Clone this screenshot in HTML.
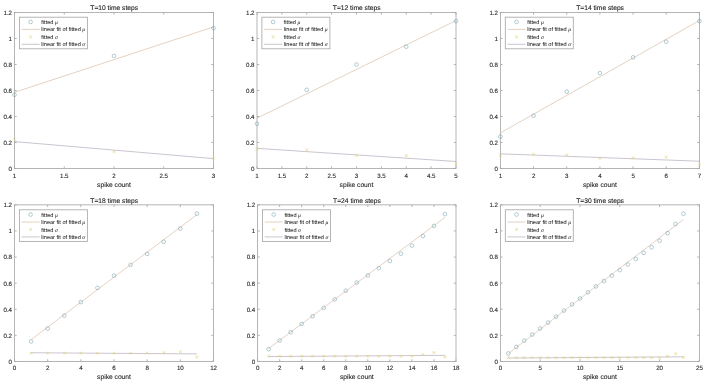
<!DOCTYPE html>
<html><head><meta charset="utf-8"><style>
html,body{margin:0;padding:0;background:#fff;width:708px;height:386px;overflow:hidden}
svg{display:block}
text{text-rendering:geometricPrecision;font-family:"Liberation Sans",sans-serif;font-size:6.2px;fill:#262626;stroke:#262626;stroke-width:0.1px}
text.k{letter-spacing:-0.1px}
text.t{font-size:6.7px;fill:#181818;stroke:#181818;stroke-width:0.1px}
text.l{font-size:5.6px;fill:#2a2a2a;stroke:#2a2a2a;stroke-width:0.05px}
text.x{font-size:6.7px}
tspan.g{font-family:"Liberation Serif",serif;font-style:italic}
</style></head><body>
<svg width="708" height="386" viewBox="0 0 708 386">
<defs><filter id="b" filterUnits="userSpaceOnUse" x="0" y="0" width="708" height="386"><feGaussianBlur stdDeviation="0.32"/></filter></defs>
<rect width="708" height="386" fill="#ffffff"/>
<g filter="url(#b)">
<g><rect x="14.50" y="12.50" width="199.00" height="156.00" fill="none" stroke="#a8a8a8" stroke-width="0.85"/><path d="M14.50 168.50v-2.2M14.50 12.50v2.2" stroke="#a8a8a8" stroke-width="0.85"/><text x="14.50" y="177.80" text-anchor="middle" class="k">1</text><path d="M64.25 168.50v-2.2M64.25 12.50v2.2" stroke="#a8a8a8" stroke-width="0.85"/><text x="64.25" y="177.80" text-anchor="middle" class="k">1.5</text><path d="M114.00 168.50v-2.2M114.00 12.50v2.2" stroke="#a8a8a8" stroke-width="0.85"/><text x="114.00" y="177.80" text-anchor="middle" class="k">2</text><path d="M163.75 168.50v-2.2M163.75 12.50v2.2" stroke="#a8a8a8" stroke-width="0.85"/><text x="163.75" y="177.80" text-anchor="middle" class="k">2.5</text><path d="M213.50 168.50v-2.2M213.50 12.50v2.2" stroke="#a8a8a8" stroke-width="0.85"/><text x="213.50" y="177.80" text-anchor="middle" class="k">3</text><path d="M14.50 168.50h2.2M213.50 168.50h-2.2" stroke="#a8a8a8" stroke-width="0.85"/><text x="11.90" y="170.60" text-anchor="end" class="k">0</text><path d="M14.50 142.50h2.2M213.50 142.50h-2.2" stroke="#a8a8a8" stroke-width="0.85"/><text x="11.90" y="144.60" text-anchor="end" class="k">0.2</text><path d="M14.50 116.50h2.2M213.50 116.50h-2.2" stroke="#a8a8a8" stroke-width="0.85"/><text x="11.90" y="118.60" text-anchor="end" class="k">0.4</text><path d="M14.50 90.50h2.2M213.50 90.50h-2.2" stroke="#a8a8a8" stroke-width="0.85"/><text x="11.90" y="92.60" text-anchor="end" class="k">0.6</text><path d="M14.50 64.50h2.2M213.50 64.50h-2.2" stroke="#a8a8a8" stroke-width="0.85"/><text x="11.90" y="66.60" text-anchor="end" class="k">0.8</text><path d="M14.50 38.50h2.2M213.50 38.50h-2.2" stroke="#a8a8a8" stroke-width="0.85"/><text x="11.90" y="40.60" text-anchor="end" class="k">1</text><path d="M14.50 12.50h2.2M213.50 12.50h-2.2" stroke="#a8a8a8" stroke-width="0.85"/><text x="11.90" y="14.60" text-anchor="end" class="k">1.2</text><text x="114.00" y="186.60" text-anchor="middle" class="x">spike count</text><text x="114.20" y="9.90" text-anchor="middle" class="t">T=10 time steps</text><line x1="14.50" y1="92.32" x2="213.50" y2="26.93" stroke="#d0ac90" stroke-width="0.55"/><line x1="14.50" y1="141.59" x2="213.50" y2="158.62" stroke="#9d95a8" stroke-width="0.55"/><circle cx="14.50" cy="94.79" r="1.85" fill="none" stroke="#6e9eae" stroke-width="0.52"/><circle cx="114.00" cy="55.92" r="1.85" fill="none" stroke="#6e9eae" stroke-width="0.52"/><circle cx="213.50" cy="28.23" r="1.85" fill="none" stroke="#6e9eae" stroke-width="0.52"/><path d="M12.93 139.38h3.15M14.50 137.81v3.15" stroke="#e2d47a" stroke-width="0.34" opacity="0.8"/><path d="M13.02 137.90l2.97 2.97M13.02 140.86l2.97 -2.97" stroke="#e2d47a" stroke-width="0.42"/><path d="M112.42 151.73h3.15M114.00 150.16v3.15" stroke="#e2d47a" stroke-width="0.34" opacity="0.8"/><path d="M112.52 150.25l2.97 2.97M112.52 153.21l2.97 -2.97" stroke="#e2d47a" stroke-width="0.42"/><path d="M211.93 158.10h3.15M213.50 156.53v3.15" stroke="#e2d47a" stroke-width="0.34" opacity="0.8"/><path d="M212.02 156.62l2.97 2.97M212.02 159.58l2.97 -2.97" stroke="#e2d47a" stroke-width="0.42"/><rect x="19.40" y="17.20" width="68.0" height="31.6" fill="#ffffff" stroke="#a8a8a8" stroke-width="0.85"/><circle cx="30.60" cy="21.95" r="1.85" fill="none" stroke="#6e9eae" stroke-width="0.52"/><line x1="21.60" y1="29.40" x2="39.70" y2="29.40" stroke="#d0ac90" stroke-width="0.55"/><path d="M29.02 36.85h3.15M30.60 35.27v3.15" stroke="#e2d47a" stroke-width="0.34" opacity="0.8"/><path d="M29.12 35.37l2.97 2.97M29.12 38.33l2.97 -2.97" stroke="#e2d47a" stroke-width="0.42"/><line x1="21.60" y1="44.30" x2="39.70" y2="44.30" stroke="#9d95a8" stroke-width="0.55"/><text x="41.30" y="23.95" class="l">fitted <tspan class="g">&#956;</tspan></text><text x="41.30" y="31.40" class="l">linear fit of fitted <tspan class="g">&#956;</tspan></text><text x="41.30" y="38.85" class="l">fitted <tspan class="g">&#963;</tspan></text><text x="41.30" y="46.30" class="l">linear fit of fitted <tspan class="g">&#963;</tspan></text></g>
<g><rect x="257.00" y="12.50" width="199.00" height="156.00" fill="none" stroke="#a8a8a8" stroke-width="0.85"/><path d="M257.00 168.50v-2.2M257.00 12.50v2.2" stroke="#a8a8a8" stroke-width="0.85"/><text x="257.00" y="177.80" text-anchor="middle" class="k">1</text><path d="M281.88 168.50v-2.2M281.88 12.50v2.2" stroke="#a8a8a8" stroke-width="0.85"/><text x="281.88" y="177.80" text-anchor="middle" class="k">1.5</text><path d="M306.75 168.50v-2.2M306.75 12.50v2.2" stroke="#a8a8a8" stroke-width="0.85"/><text x="306.75" y="177.80" text-anchor="middle" class="k">2</text><path d="M331.62 168.50v-2.2M331.62 12.50v2.2" stroke="#a8a8a8" stroke-width="0.85"/><text x="331.62" y="177.80" text-anchor="middle" class="k">2.5</text><path d="M356.50 168.50v-2.2M356.50 12.50v2.2" stroke="#a8a8a8" stroke-width="0.85"/><text x="356.50" y="177.80" text-anchor="middle" class="k">3</text><path d="M381.38 168.50v-2.2M381.38 12.50v2.2" stroke="#a8a8a8" stroke-width="0.85"/><text x="381.38" y="177.80" text-anchor="middle" class="k">3.5</text><path d="M406.25 168.50v-2.2M406.25 12.50v2.2" stroke="#a8a8a8" stroke-width="0.85"/><text x="406.25" y="177.80" text-anchor="middle" class="k">4</text><path d="M431.12 168.50v-2.2M431.12 12.50v2.2" stroke="#a8a8a8" stroke-width="0.85"/><text x="431.12" y="177.80" text-anchor="middle" class="k">4.5</text><path d="M456.00 168.50v-2.2M456.00 12.50v2.2" stroke="#a8a8a8" stroke-width="0.85"/><text x="456.00" y="177.80" text-anchor="middle" class="k">5</text><path d="M257.00 168.50h2.2M456.00 168.50h-2.2" stroke="#a8a8a8" stroke-width="0.85"/><text x="254.40" y="170.60" text-anchor="end" class="k">0</text><path d="M257.00 142.50h2.2M456.00 142.50h-2.2" stroke="#a8a8a8" stroke-width="0.85"/><text x="254.40" y="144.60" text-anchor="end" class="k">0.2</text><path d="M257.00 116.50h2.2M456.00 116.50h-2.2" stroke="#a8a8a8" stroke-width="0.85"/><text x="254.40" y="118.60" text-anchor="end" class="k">0.4</text><path d="M257.00 90.50h2.2M456.00 90.50h-2.2" stroke="#a8a8a8" stroke-width="0.85"/><text x="254.40" y="92.60" text-anchor="end" class="k">0.6</text><path d="M257.00 64.50h2.2M456.00 64.50h-2.2" stroke="#a8a8a8" stroke-width="0.85"/><text x="254.40" y="66.60" text-anchor="end" class="k">0.8</text><path d="M257.00 38.50h2.2M456.00 38.50h-2.2" stroke="#a8a8a8" stroke-width="0.85"/><text x="254.40" y="40.60" text-anchor="end" class="k">1</text><path d="M257.00 12.50h2.2M456.00 12.50h-2.2" stroke="#a8a8a8" stroke-width="0.85"/><text x="254.40" y="14.60" text-anchor="end" class="k">1.2</text><text x="356.50" y="186.60" text-anchor="middle" class="x">spike count</text><text x="356.70" y="9.90" text-anchor="middle" class="t">T=12 time steps</text><line x1="257.00" y1="118.19" x2="456.00" y2="20.56" stroke="#d0ac90" stroke-width="0.55"/><line x1="257.00" y1="148.35" x2="456.00" y2="161.48" stroke="#9d95a8" stroke-width="0.55"/><circle cx="257.00" cy="123.78" r="1.85" fill="none" stroke="#6e9eae" stroke-width="0.52"/><circle cx="306.75" cy="89.85" r="1.85" fill="none" stroke="#6e9eae" stroke-width="0.52"/><circle cx="356.50" cy="64.50" r="1.85" fill="none" stroke="#6e9eae" stroke-width="0.52"/><circle cx="406.25" cy="46.69" r="1.85" fill="none" stroke="#6e9eae" stroke-width="0.52"/><circle cx="456.00" cy="21.08" r="1.85" fill="none" stroke="#6e9eae" stroke-width="0.52"/><path d="M255.43 149.00h3.15M257.00 147.43v3.15" stroke="#e2d47a" stroke-width="0.34" opacity="0.8"/><path d="M255.52 147.52l2.97 2.97M255.52 150.48l2.97 -2.97" stroke="#e2d47a" stroke-width="0.42"/><path d="M305.18 149.78h3.15M306.75 148.21v3.15" stroke="#e2d47a" stroke-width="0.34" opacity="0.8"/><path d="M305.27 148.30l2.97 2.97M305.27 151.26l2.97 -2.97" stroke="#e2d47a" stroke-width="0.42"/><path d="M354.93 155.37h3.15M356.50 153.80v3.15" stroke="#e2d47a" stroke-width="0.34" opacity="0.8"/><path d="M355.02 153.89l2.97 2.97M355.02 156.85l2.97 -2.97" stroke="#e2d47a" stroke-width="0.42"/><path d="M404.68 155.63h3.15M406.25 154.06v3.15" stroke="#e2d47a" stroke-width="0.34" opacity="0.8"/><path d="M404.77 154.15l2.97 2.97M404.77 157.11l2.97 -2.97" stroke="#e2d47a" stroke-width="0.42"/><path d="M454.43 163.95h3.15M456.00 162.38v3.15" stroke="#e2d47a" stroke-width="0.34" opacity="0.8"/><path d="M454.52 162.47l2.97 2.97M454.52 165.43l2.97 -2.97" stroke="#e2d47a" stroke-width="0.42"/><rect x="261.90" y="17.20" width="68.0" height="31.6" fill="#ffffff" stroke="#a8a8a8" stroke-width="0.85"/><circle cx="273.10" cy="21.95" r="1.85" fill="none" stroke="#6e9eae" stroke-width="0.52"/><line x1="264.10" y1="29.40" x2="282.20" y2="29.40" stroke="#d0ac90" stroke-width="0.55"/><path d="M271.52 36.85h3.15M273.10 35.27v3.15" stroke="#e2d47a" stroke-width="0.34" opacity="0.8"/><path d="M271.62 35.37l2.97 2.97M271.62 38.33l2.97 -2.97" stroke="#e2d47a" stroke-width="0.42"/><line x1="264.10" y1="44.30" x2="282.20" y2="44.30" stroke="#9d95a8" stroke-width="0.55"/><text x="283.80" y="23.95" class="l">fitted <tspan class="g">&#956;</tspan></text><text x="283.80" y="31.40" class="l">linear fit of fitted <tspan class="g">&#956;</tspan></text><text x="283.80" y="38.85" class="l">fitted <tspan class="g">&#963;</tspan></text><text x="283.80" y="46.30" class="l">linear fit of fitted <tspan class="g">&#963;</tspan></text></g>
<g><rect x="500.40" y="12.50" width="199.00" height="156.00" fill="none" stroke="#a8a8a8" stroke-width="0.85"/><path d="M500.40 168.50v-2.2M500.40 12.50v2.2" stroke="#a8a8a8" stroke-width="0.85"/><text x="500.40" y="177.80" text-anchor="middle" class="k">1</text><path d="M533.57 168.50v-2.2M533.57 12.50v2.2" stroke="#a8a8a8" stroke-width="0.85"/><text x="533.57" y="177.80" text-anchor="middle" class="k">2</text><path d="M566.73 168.50v-2.2M566.73 12.50v2.2" stroke="#a8a8a8" stroke-width="0.85"/><text x="566.73" y="177.80" text-anchor="middle" class="k">3</text><path d="M599.90 168.50v-2.2M599.90 12.50v2.2" stroke="#a8a8a8" stroke-width="0.85"/><text x="599.90" y="177.80" text-anchor="middle" class="k">4</text><path d="M633.07 168.50v-2.2M633.07 12.50v2.2" stroke="#a8a8a8" stroke-width="0.85"/><text x="633.07" y="177.80" text-anchor="middle" class="k">5</text><path d="M666.23 168.50v-2.2M666.23 12.50v2.2" stroke="#a8a8a8" stroke-width="0.85"/><text x="666.23" y="177.80" text-anchor="middle" class="k">6</text><path d="M699.40 168.50v-2.2M699.40 12.50v2.2" stroke="#a8a8a8" stroke-width="0.85"/><text x="699.40" y="177.80" text-anchor="middle" class="k">7</text><path d="M500.40 168.50h2.2M699.40 168.50h-2.2" stroke="#a8a8a8" stroke-width="0.85"/><text x="497.80" y="170.60" text-anchor="end" class="k">0</text><path d="M500.40 142.50h2.2M699.40 142.50h-2.2" stroke="#a8a8a8" stroke-width="0.85"/><text x="497.80" y="144.60" text-anchor="end" class="k">0.2</text><path d="M500.40 116.50h2.2M699.40 116.50h-2.2" stroke="#a8a8a8" stroke-width="0.85"/><text x="497.80" y="118.60" text-anchor="end" class="k">0.4</text><path d="M500.40 90.50h2.2M699.40 90.50h-2.2" stroke="#a8a8a8" stroke-width="0.85"/><text x="497.80" y="92.60" text-anchor="end" class="k">0.6</text><path d="M500.40 64.50h2.2M699.40 64.50h-2.2" stroke="#a8a8a8" stroke-width="0.85"/><text x="497.80" y="66.60" text-anchor="end" class="k">0.8</text><path d="M500.40 38.50h2.2M699.40 38.50h-2.2" stroke="#a8a8a8" stroke-width="0.85"/><text x="497.80" y="40.60" text-anchor="end" class="k">1</text><path d="M500.40 12.50h2.2M699.40 12.50h-2.2" stroke="#a8a8a8" stroke-width="0.85"/><text x="497.80" y="14.60" text-anchor="end" class="k">1.2</text><text x="599.90" y="186.60" text-anchor="middle" class="x">spike count</text><text x="600.10" y="9.90" text-anchor="middle" class="t">T=14 time steps</text><line x1="500.40" y1="132.88" x2="699.40" y2="20.56" stroke="#d0ac90" stroke-width="0.55"/><line x1="500.40" y1="153.81" x2="699.40" y2="161.22" stroke="#9d95a8" stroke-width="0.55"/><circle cx="500.40" cy="136.65" r="1.85" fill="none" stroke="#6e9eae" stroke-width="0.52"/><circle cx="533.57" cy="115.72" r="1.85" fill="none" stroke="#6e9eae" stroke-width="0.52"/><circle cx="566.73" cy="91.67" r="1.85" fill="none" stroke="#6e9eae" stroke-width="0.52"/><circle cx="599.90" cy="73.08" r="1.85" fill="none" stroke="#6e9eae" stroke-width="0.52"/><circle cx="633.07" cy="57.35" r="1.85" fill="none" stroke="#6e9eae" stroke-width="0.52"/><circle cx="666.23" cy="41.75" r="1.85" fill="none" stroke="#6e9eae" stroke-width="0.52"/><circle cx="699.40" cy="21.08" r="1.85" fill="none" stroke="#6e9eae" stroke-width="0.52"/><path d="M498.82 155.50h3.15M500.40 153.93v3.15" stroke="#e2d47a" stroke-width="0.34" opacity="0.8"/><path d="M498.92 154.02l2.97 2.97M498.92 156.98l2.97 -2.97" stroke="#e2d47a" stroke-width="0.42"/><path d="M531.99 154.33h3.15M533.57 152.76v3.15" stroke="#e2d47a" stroke-width="0.34" opacity="0.8"/><path d="M532.08 152.85l2.97 2.97M532.08 155.81l2.97 -2.97" stroke="#e2d47a" stroke-width="0.42"/><path d="M565.16 154.98h3.15M566.73 153.41v3.15" stroke="#e2d47a" stroke-width="0.34" opacity="0.8"/><path d="M565.25 153.50l2.97 2.97M565.25 156.46l2.97 -2.97" stroke="#e2d47a" stroke-width="0.42"/><path d="M598.32 158.36h3.15M599.90 156.79v3.15" stroke="#e2d47a" stroke-width="0.34" opacity="0.8"/><path d="M598.42 156.88l2.97 2.97M598.42 159.84l2.97 -2.97" stroke="#e2d47a" stroke-width="0.42"/><path d="M631.49 157.97h3.15M633.07 156.40v3.15" stroke="#e2d47a" stroke-width="0.34" opacity="0.8"/><path d="M631.58 156.49l2.97 2.97M631.58 159.45l2.97 -2.97" stroke="#e2d47a" stroke-width="0.42"/><path d="M664.66 157.06h3.15M666.23 155.49v3.15" stroke="#e2d47a" stroke-width="0.34" opacity="0.8"/><path d="M664.75 155.58l2.97 2.97M664.75 158.54l2.97 -2.97" stroke="#e2d47a" stroke-width="0.42"/><path d="M697.82 164.21h3.15M699.40 162.64v3.15" stroke="#e2d47a" stroke-width="0.34" opacity="0.8"/><path d="M697.92 162.73l2.97 2.97M697.92 165.69l2.97 -2.97" stroke="#e2d47a" stroke-width="0.42"/><rect x="505.30" y="17.20" width="68.0" height="31.6" fill="#ffffff" stroke="#a8a8a8" stroke-width="0.85"/><circle cx="516.50" cy="21.95" r="1.85" fill="none" stroke="#6e9eae" stroke-width="0.52"/><line x1="507.50" y1="29.40" x2="525.60" y2="29.40" stroke="#d0ac90" stroke-width="0.55"/><path d="M514.92 36.85h3.15M516.50 35.27v3.15" stroke="#e2d47a" stroke-width="0.34" opacity="0.8"/><path d="M515.02 35.37l2.97 2.97M515.02 38.33l2.97 -2.97" stroke="#e2d47a" stroke-width="0.42"/><line x1="507.50" y1="44.30" x2="525.60" y2="44.30" stroke="#9d95a8" stroke-width="0.55"/><text x="527.20" y="23.95" class="l">fitted <tspan class="g">&#956;</tspan></text><text x="527.20" y="31.40" class="l">linear fit of fitted <tspan class="g">&#956;</tspan></text><text x="527.20" y="38.85" class="l">fitted <tspan class="g">&#963;</tspan></text><text x="527.20" y="46.30" class="l">linear fit of fitted <tspan class="g">&#963;</tspan></text></g>
<g><rect x="14.50" y="204.85" width="199.00" height="156.60" fill="none" stroke="#a8a8a8" stroke-width="0.85"/><path d="M14.50 361.45v-2.2M14.50 204.85v2.2" stroke="#a8a8a8" stroke-width="0.85"/><text x="14.50" y="370.35" text-anchor="middle" class="k">0</text><path d="M47.67 361.45v-2.2M47.67 204.85v2.2" stroke="#a8a8a8" stroke-width="0.85"/><text x="47.67" y="370.35" text-anchor="middle" class="k">2</text><path d="M80.83 361.45v-2.2M80.83 204.85v2.2" stroke="#a8a8a8" stroke-width="0.85"/><text x="80.83" y="370.35" text-anchor="middle" class="k">4</text><path d="M114.00 361.45v-2.2M114.00 204.85v2.2" stroke="#a8a8a8" stroke-width="0.85"/><text x="114.00" y="370.35" text-anchor="middle" class="k">6</text><path d="M147.17 361.45v-2.2M147.17 204.85v2.2" stroke="#a8a8a8" stroke-width="0.85"/><text x="147.17" y="370.35" text-anchor="middle" class="k">8</text><path d="M180.33 361.45v-2.2M180.33 204.85v2.2" stroke="#a8a8a8" stroke-width="0.85"/><text x="180.33" y="370.35" text-anchor="middle" class="k">10</text><path d="M213.50 361.45v-2.2M213.50 204.85v2.2" stroke="#a8a8a8" stroke-width="0.85"/><text x="213.50" y="370.35" text-anchor="middle" class="k">12</text><path d="M14.50 361.45h2.2M213.50 361.45h-2.2" stroke="#a8a8a8" stroke-width="0.85"/><text x="11.90" y="363.85" text-anchor="end" class="k">0</text><path d="M14.50 335.35h2.2M213.50 335.35h-2.2" stroke="#a8a8a8" stroke-width="0.85"/><text x="11.90" y="337.75" text-anchor="end" class="k">0.2</text><path d="M14.50 309.25h2.2M213.50 309.25h-2.2" stroke="#a8a8a8" stroke-width="0.85"/><text x="11.90" y="311.65" text-anchor="end" class="k">0.4</text><path d="M14.50 283.15h2.2M213.50 283.15h-2.2" stroke="#a8a8a8" stroke-width="0.85"/><text x="11.90" y="285.55" text-anchor="end" class="k">0.6</text><path d="M14.50 257.05h2.2M213.50 257.05h-2.2" stroke="#a8a8a8" stroke-width="0.85"/><text x="11.90" y="259.45" text-anchor="end" class="k">0.8</text><path d="M14.50 230.95h2.2M213.50 230.95h-2.2" stroke="#a8a8a8" stroke-width="0.85"/><text x="11.90" y="233.35" text-anchor="end" class="k">1</text><path d="M14.50 204.85h2.2M213.50 204.85h-2.2" stroke="#a8a8a8" stroke-width="0.85"/><text x="11.90" y="207.25" text-anchor="end" class="k">1.2</text><text x="114.00" y="379.35" text-anchor="middle" class="x">spike count</text><text x="114.20" y="202.55" text-anchor="middle" class="t">T=18 time steps</text><line x1="31.08" y1="339.66" x2="196.92" y2="214.64" stroke="#d0ac90" stroke-width="0.55"/><line x1="31.08" y1="352.74" x2="196.92" y2="353.90" stroke="#9d95a8" stroke-width="0.55"/><circle cx="31.08" cy="341.48" r="1.85" fill="none" stroke="#6e9eae" stroke-width="0.52"/><circle cx="47.67" cy="328.56" r="1.85" fill="none" stroke="#6e9eae" stroke-width="0.52"/><circle cx="64.25" cy="315.64" r="1.85" fill="none" stroke="#6e9eae" stroke-width="0.52"/><circle cx="80.83" cy="302.07" r="1.85" fill="none" stroke="#6e9eae" stroke-width="0.52"/><circle cx="97.42" cy="287.85" r="1.85" fill="none" stroke="#6e9eae" stroke-width="0.52"/><circle cx="114.00" cy="275.58" r="1.85" fill="none" stroke="#6e9eae" stroke-width="0.52"/><circle cx="130.58" cy="264.88" r="1.85" fill="none" stroke="#6e9eae" stroke-width="0.52"/><circle cx="147.17" cy="253.92" r="1.85" fill="none" stroke="#6e9eae" stroke-width="0.52"/><circle cx="163.75" cy="241.78" r="1.85" fill="none" stroke="#6e9eae" stroke-width="0.52"/><circle cx="180.33" cy="228.60" r="1.85" fill="none" stroke="#6e9eae" stroke-width="0.52"/><circle cx="196.92" cy="213.59" r="1.85" fill="none" stroke="#6e9eae" stroke-width="0.52"/><path d="M29.51 353.10h3.15M31.08 351.52v3.15" stroke="#e2d47a" stroke-width="0.34" opacity="0.8"/><path d="M29.60 351.61l2.97 2.97M29.60 354.58l2.97 -2.97" stroke="#e2d47a" stroke-width="0.42"/><path d="M46.09 353.10h3.15M47.67 351.52v3.15" stroke="#e2d47a" stroke-width="0.34" opacity="0.8"/><path d="M46.18 351.61l2.97 2.97M46.18 354.58l2.97 -2.97" stroke="#e2d47a" stroke-width="0.42"/><path d="M62.67 353.10h3.15M64.25 351.52v3.15" stroke="#e2d47a" stroke-width="0.34" opacity="0.8"/><path d="M62.77 351.61l2.97 2.97M62.77 354.58l2.97 -2.97" stroke="#e2d47a" stroke-width="0.42"/><path d="M79.26 353.10h3.15M80.83 351.52v3.15" stroke="#e2d47a" stroke-width="0.34" opacity="0.8"/><path d="M79.35 351.61l2.97 2.97M79.35 354.58l2.97 -2.97" stroke="#e2d47a" stroke-width="0.42"/><path d="M95.84 353.23h3.15M97.42 351.65v3.15" stroke="#e2d47a" stroke-width="0.34" opacity="0.8"/><path d="M95.93 351.74l2.97 2.97M95.93 354.71l2.97 -2.97" stroke="#e2d47a" stroke-width="0.42"/><path d="M112.42 353.23h3.15M114.00 351.65v3.15" stroke="#e2d47a" stroke-width="0.34" opacity="0.8"/><path d="M112.52 351.74l2.97 2.97M112.52 354.71l2.97 -2.97" stroke="#e2d47a" stroke-width="0.42"/><path d="M129.01 353.23h3.15M130.58 351.65v3.15" stroke="#e2d47a" stroke-width="0.34" opacity="0.8"/><path d="M129.10 351.74l2.97 2.97M129.10 354.71l2.97 -2.97" stroke="#e2d47a" stroke-width="0.42"/><path d="M145.59 353.10h3.15M147.17 351.52v3.15" stroke="#e2d47a" stroke-width="0.34" opacity="0.8"/><path d="M145.68 351.61l2.97 2.97M145.68 354.58l2.97 -2.97" stroke="#e2d47a" stroke-width="0.42"/><path d="M162.18 352.58h3.15M163.75 351.00v3.15" stroke="#e2d47a" stroke-width="0.34" opacity="0.8"/><path d="M162.27 351.09l2.97 2.97M162.27 354.06l2.97 -2.97" stroke="#e2d47a" stroke-width="0.42"/><path d="M178.76 351.79h3.15M180.33 350.22v3.15" stroke="#e2d47a" stroke-width="0.34" opacity="0.8"/><path d="M178.85 350.31l2.97 2.97M178.85 353.28l2.97 -2.97" stroke="#e2d47a" stroke-width="0.42"/><path d="M195.34 357.01h3.15M196.92 355.44v3.15" stroke="#e2d47a" stroke-width="0.34" opacity="0.8"/><path d="M195.43 355.53l2.97 2.97M195.43 358.50l2.97 -2.97" stroke="#e2d47a" stroke-width="0.42"/><rect x="19.40" y="209.80" width="68.0" height="31.6" fill="#ffffff" stroke="#a8a8a8" stroke-width="0.85"/><circle cx="30.60" cy="214.55" r="1.85" fill="none" stroke="#6e9eae" stroke-width="0.52"/><line x1="21.60" y1="222.00" x2="39.70" y2="222.00" stroke="#d0ac90" stroke-width="0.55"/><path d="M29.02 229.45h3.15M30.60 227.88v3.15" stroke="#e2d47a" stroke-width="0.34" opacity="0.8"/><path d="M29.12 227.97l2.97 2.97M29.12 230.93l2.97 -2.97" stroke="#e2d47a" stroke-width="0.42"/><line x1="21.60" y1="236.90" x2="39.70" y2="236.90" stroke="#9d95a8" stroke-width="0.55"/><text x="41.30" y="216.90" class="l">fitted <tspan class="g">&#956;</tspan></text><text x="41.30" y="224.35" class="l">linear fit of fitted <tspan class="g">&#956;</tspan></text><text x="41.30" y="231.80" class="l">fitted <tspan class="g">&#963;</tspan></text><text x="41.30" y="239.25" class="l">linear fit of fitted <tspan class="g">&#963;</tspan></text></g>
<g><rect x="257.60" y="204.85" width="198.40" height="156.60" fill="none" stroke="#a8a8a8" stroke-width="0.85"/><path d="M257.60 361.45v-2.2M257.60 204.85v2.2" stroke="#a8a8a8" stroke-width="0.85"/><text x="257.60" y="370.35" text-anchor="middle" class="k">0</text><path d="M279.64 361.45v-2.2M279.64 204.85v2.2" stroke="#a8a8a8" stroke-width="0.85"/><text x="279.64" y="370.35" text-anchor="middle" class="k">2</text><path d="M301.69 361.45v-2.2M301.69 204.85v2.2" stroke="#a8a8a8" stroke-width="0.85"/><text x="301.69" y="370.35" text-anchor="middle" class="k">4</text><path d="M323.73 361.45v-2.2M323.73 204.85v2.2" stroke="#a8a8a8" stroke-width="0.85"/><text x="323.73" y="370.35" text-anchor="middle" class="k">6</text><path d="M345.78 361.45v-2.2M345.78 204.85v2.2" stroke="#a8a8a8" stroke-width="0.85"/><text x="345.78" y="370.35" text-anchor="middle" class="k">8</text><path d="M367.82 361.45v-2.2M367.82 204.85v2.2" stroke="#a8a8a8" stroke-width="0.85"/><text x="367.82" y="370.35" text-anchor="middle" class="k">10</text><path d="M389.87 361.45v-2.2M389.87 204.85v2.2" stroke="#a8a8a8" stroke-width="0.85"/><text x="389.87" y="370.35" text-anchor="middle" class="k">12</text><path d="M411.91 361.45v-2.2M411.91 204.85v2.2" stroke="#a8a8a8" stroke-width="0.85"/><text x="411.91" y="370.35" text-anchor="middle" class="k">14</text><path d="M433.96 361.45v-2.2M433.96 204.85v2.2" stroke="#a8a8a8" stroke-width="0.85"/><text x="433.96" y="370.35" text-anchor="middle" class="k">16</text><path d="M456.00 361.45v-2.2M456.00 204.85v2.2" stroke="#a8a8a8" stroke-width="0.85"/><text x="456.00" y="370.35" text-anchor="middle" class="k">18</text><path d="M257.60 361.45h2.2M456.00 361.45h-2.2" stroke="#a8a8a8" stroke-width="0.85"/><text x="255.00" y="363.85" text-anchor="end" class="k">0</text><path d="M257.60 335.35h2.2M456.00 335.35h-2.2" stroke="#a8a8a8" stroke-width="0.85"/><text x="255.00" y="337.75" text-anchor="end" class="k">0.2</text><path d="M257.60 309.25h2.2M456.00 309.25h-2.2" stroke="#a8a8a8" stroke-width="0.85"/><text x="255.00" y="311.65" text-anchor="end" class="k">0.4</text><path d="M257.60 283.15h2.2M456.00 283.15h-2.2" stroke="#a8a8a8" stroke-width="0.85"/><text x="255.00" y="285.55" text-anchor="end" class="k">0.6</text><path d="M257.60 257.05h2.2M456.00 257.05h-2.2" stroke="#a8a8a8" stroke-width="0.85"/><text x="255.00" y="259.45" text-anchor="end" class="k">0.8</text><path d="M257.60 230.95h2.2M456.00 230.95h-2.2" stroke="#a8a8a8" stroke-width="0.85"/><text x="255.00" y="233.35" text-anchor="end" class="k">1</text><path d="M257.60 204.85h2.2M456.00 204.85h-2.2" stroke="#a8a8a8" stroke-width="0.85"/><text x="255.00" y="207.25" text-anchor="end" class="k">1.2</text><text x="356.80" y="379.35" text-anchor="middle" class="x">spike count</text><text x="357.00" y="202.55" text-anchor="middle" class="t">T=24 time steps</text><line x1="268.62" y1="348.53" x2="444.98" y2="217.38" stroke="#d0ac90" stroke-width="0.55"/><line x1="268.62" y1="356.55" x2="444.98" y2="355.35" stroke="#9d95a8" stroke-width="0.55"/><circle cx="268.62" cy="349.18" r="1.85" fill="none" stroke="#6e9eae" stroke-width="0.52"/><circle cx="279.64" cy="340.57" r="1.85" fill="none" stroke="#6e9eae" stroke-width="0.52"/><circle cx="290.67" cy="332.22" r="1.85" fill="none" stroke="#6e9eae" stroke-width="0.52"/><circle cx="301.69" cy="324.00" r="1.85" fill="none" stroke="#6e9eae" stroke-width="0.52"/><circle cx="312.71" cy="316.17" r="1.85" fill="none" stroke="#6e9eae" stroke-width="0.52"/><circle cx="323.73" cy="307.81" r="1.85" fill="none" stroke="#6e9eae" stroke-width="0.52"/><circle cx="334.76" cy="299.33" r="1.85" fill="none" stroke="#6e9eae" stroke-width="0.52"/><circle cx="345.78" cy="290.72" r="1.85" fill="none" stroke="#6e9eae" stroke-width="0.52"/><circle cx="356.80" cy="282.50" r="1.85" fill="none" stroke="#6e9eae" stroke-width="0.52"/><circle cx="367.82" cy="275.45" r="1.85" fill="none" stroke="#6e9eae" stroke-width="0.52"/><circle cx="378.84" cy="268.14" r="1.85" fill="none" stroke="#6e9eae" stroke-width="0.52"/><circle cx="389.87" cy="260.96" r="1.85" fill="none" stroke="#6e9eae" stroke-width="0.52"/><circle cx="400.89" cy="253.66" r="1.85" fill="none" stroke="#6e9eae" stroke-width="0.52"/><circle cx="411.91" cy="245.57" r="1.85" fill="none" stroke="#6e9eae" stroke-width="0.52"/><circle cx="422.93" cy="236.04" r="1.85" fill="none" stroke="#6e9eae" stroke-width="0.52"/><circle cx="433.96" cy="225.86" r="1.85" fill="none" stroke="#6e9eae" stroke-width="0.52"/><circle cx="444.98" cy="214.12" r="1.85" fill="none" stroke="#6e9eae" stroke-width="0.52"/><path d="M267.05 356.23h3.15M268.62 354.65v3.15" stroke="#e2d47a" stroke-width="0.34" opacity="0.8"/><path d="M267.14 354.75l2.97 2.97M267.14 357.71l2.97 -2.97" stroke="#e2d47a" stroke-width="0.42"/><path d="M278.07 356.23h3.15M279.64 354.65v3.15" stroke="#e2d47a" stroke-width="0.34" opacity="0.8"/><path d="M278.16 354.75l2.97 2.97M278.16 357.71l2.97 -2.97" stroke="#e2d47a" stroke-width="0.42"/><path d="M289.09 356.23h3.15M290.67 354.65v3.15" stroke="#e2d47a" stroke-width="0.34" opacity="0.8"/><path d="M289.18 354.75l2.97 2.97M289.18 357.71l2.97 -2.97" stroke="#e2d47a" stroke-width="0.42"/><path d="M300.11 356.23h3.15M301.69 354.65v3.15" stroke="#e2d47a" stroke-width="0.34" opacity="0.8"/><path d="M300.20 354.75l2.97 2.97M300.20 357.71l2.97 -2.97" stroke="#e2d47a" stroke-width="0.42"/><path d="M311.14 356.23h3.15M312.71 354.65v3.15" stroke="#e2d47a" stroke-width="0.34" opacity="0.8"/><path d="M311.23 354.75l2.97 2.97M311.23 357.71l2.97 -2.97" stroke="#e2d47a" stroke-width="0.42"/><path d="M322.16 356.23h3.15M323.73 354.65v3.15" stroke="#e2d47a" stroke-width="0.34" opacity="0.8"/><path d="M322.25 354.75l2.97 2.97M322.25 357.71l2.97 -2.97" stroke="#e2d47a" stroke-width="0.42"/><path d="M333.18 356.23h3.15M334.76 354.65v3.15" stroke="#e2d47a" stroke-width="0.34" opacity="0.8"/><path d="M333.27 354.75l2.97 2.97M333.27 357.71l2.97 -2.97" stroke="#e2d47a" stroke-width="0.42"/><path d="M344.20 356.23h3.15M345.78 354.65v3.15" stroke="#e2d47a" stroke-width="0.34" opacity="0.8"/><path d="M344.29 354.75l2.97 2.97M344.29 357.71l2.97 -2.97" stroke="#e2d47a" stroke-width="0.42"/><path d="M355.23 356.23h3.15M356.80 354.65v3.15" stroke="#e2d47a" stroke-width="0.34" opacity="0.8"/><path d="M355.32 354.75l2.97 2.97M355.32 357.71l2.97 -2.97" stroke="#e2d47a" stroke-width="0.42"/><path d="M366.25 356.23h3.15M367.82 354.65v3.15" stroke="#e2d47a" stroke-width="0.34" opacity="0.8"/><path d="M366.34 354.75l2.97 2.97M366.34 357.71l2.97 -2.97" stroke="#e2d47a" stroke-width="0.42"/><path d="M377.27 356.23h3.15M378.84 354.65v3.15" stroke="#e2d47a" stroke-width="0.34" opacity="0.8"/><path d="M377.36 354.75l2.97 2.97M377.36 357.71l2.97 -2.97" stroke="#e2d47a" stroke-width="0.42"/><path d="M388.29 356.23h3.15M389.87 354.65v3.15" stroke="#e2d47a" stroke-width="0.34" opacity="0.8"/><path d="M388.38 354.75l2.97 2.97M388.38 357.71l2.97 -2.97" stroke="#e2d47a" stroke-width="0.42"/><path d="M399.31 356.23h3.15M400.89 354.65v3.15" stroke="#e2d47a" stroke-width="0.34" opacity="0.8"/><path d="M399.40 354.75l2.97 2.97M399.40 357.71l2.97 -2.97" stroke="#e2d47a" stroke-width="0.42"/><path d="M410.34 356.23h3.15M411.91 354.65v3.15" stroke="#e2d47a" stroke-width="0.34" opacity="0.8"/><path d="M410.43 354.75l2.97 2.97M410.43 357.71l2.97 -2.97" stroke="#e2d47a" stroke-width="0.42"/><path d="M421.36 354.53h3.15M422.93 352.96v3.15" stroke="#e2d47a" stroke-width="0.34" opacity="0.8"/><path d="M421.45 353.05l2.97 2.97M421.45 356.02l2.97 -2.97" stroke="#e2d47a" stroke-width="0.42"/><path d="M432.38 352.58h3.15M433.96 351.00v3.15" stroke="#e2d47a" stroke-width="0.34" opacity="0.8"/><path d="M432.47 351.09l2.97 2.97M432.47 354.06l2.97 -2.97" stroke="#e2d47a" stroke-width="0.42"/><path d="M443.40 356.88h3.15M444.98 355.31v3.15" stroke="#e2d47a" stroke-width="0.34" opacity="0.8"/><path d="M443.49 355.40l2.97 2.97M443.49 358.37l2.97 -2.97" stroke="#e2d47a" stroke-width="0.42"/><rect x="262.50" y="209.80" width="68.0" height="31.6" fill="#ffffff" stroke="#a8a8a8" stroke-width="0.85"/><circle cx="273.70" cy="214.55" r="1.85" fill="none" stroke="#6e9eae" stroke-width="0.52"/><line x1="264.70" y1="222.00" x2="282.80" y2="222.00" stroke="#d0ac90" stroke-width="0.55"/><path d="M272.12 229.45h3.15M273.70 227.88v3.15" stroke="#e2d47a" stroke-width="0.34" opacity="0.8"/><path d="M272.22 227.97l2.97 2.97M272.22 230.93l2.97 -2.97" stroke="#e2d47a" stroke-width="0.42"/><line x1="264.70" y1="236.90" x2="282.80" y2="236.90" stroke="#9d95a8" stroke-width="0.55"/><text x="284.40" y="216.90" class="l">fitted <tspan class="g">&#956;</tspan></text><text x="284.40" y="224.35" class="l">linear fit of fitted <tspan class="g">&#956;</tspan></text><text x="284.40" y="231.80" class="l">fitted <tspan class="g">&#963;</tspan></text><text x="284.40" y="239.25" class="l">linear fit of fitted <tspan class="g">&#963;</tspan></text></g>
<g><rect x="500.40" y="204.85" width="199.00" height="156.60" fill="none" stroke="#a8a8a8" stroke-width="0.85"/><path d="M500.40 361.45v-2.2M500.40 204.85v2.2" stroke="#a8a8a8" stroke-width="0.85"/><text x="500.40" y="370.35" text-anchor="middle" class="k">0</text><path d="M540.20 361.45v-2.2M540.20 204.85v2.2" stroke="#a8a8a8" stroke-width="0.85"/><text x="540.20" y="370.35" text-anchor="middle" class="k">5</text><path d="M580.00 361.45v-2.2M580.00 204.85v2.2" stroke="#a8a8a8" stroke-width="0.85"/><text x="580.00" y="370.35" text-anchor="middle" class="k">10</text><path d="M619.80 361.45v-2.2M619.80 204.85v2.2" stroke="#a8a8a8" stroke-width="0.85"/><text x="619.80" y="370.35" text-anchor="middle" class="k">15</text><path d="M659.60 361.45v-2.2M659.60 204.85v2.2" stroke="#a8a8a8" stroke-width="0.85"/><text x="659.60" y="370.35" text-anchor="middle" class="k">20</text><path d="M699.40 361.45v-2.2M699.40 204.85v2.2" stroke="#a8a8a8" stroke-width="0.85"/><text x="699.40" y="370.35" text-anchor="middle" class="k">25</text><path d="M500.40 361.45h2.2M699.40 361.45h-2.2" stroke="#a8a8a8" stroke-width="0.85"/><text x="497.80" y="363.85" text-anchor="end" class="k">0</text><path d="M500.40 335.35h2.2M699.40 335.35h-2.2" stroke="#a8a8a8" stroke-width="0.85"/><text x="497.80" y="337.75" text-anchor="end" class="k">0.2</text><path d="M500.40 309.25h2.2M699.40 309.25h-2.2" stroke="#a8a8a8" stroke-width="0.85"/><text x="497.80" y="311.65" text-anchor="end" class="k">0.4</text><path d="M500.40 283.15h2.2M699.40 283.15h-2.2" stroke="#a8a8a8" stroke-width="0.85"/><text x="497.80" y="285.55" text-anchor="end" class="k">0.6</text><path d="M500.40 257.05h2.2M699.40 257.05h-2.2" stroke="#a8a8a8" stroke-width="0.85"/><text x="497.80" y="259.45" text-anchor="end" class="k">0.8</text><path d="M500.40 230.95h2.2M699.40 230.95h-2.2" stroke="#a8a8a8" stroke-width="0.85"/><text x="497.80" y="233.35" text-anchor="end" class="k">1</text><path d="M500.40 204.85h2.2M699.40 204.85h-2.2" stroke="#a8a8a8" stroke-width="0.85"/><text x="497.80" y="207.25" text-anchor="end" class="k">1.2</text><text x="599.90" y="379.35" text-anchor="middle" class="x">spike count</text><text x="600.10" y="202.55" text-anchor="middle" class="t">T=30 time steps</text><line x1="508.36" y1="353.49" x2="683.48" y2="219.47" stroke="#d0ac90" stroke-width="0.55"/><line x1="508.36" y1="358.02" x2="683.48" y2="356.82" stroke="#9d95a8" stroke-width="0.55"/><circle cx="508.36" cy="353.36" r="1.85" fill="none" stroke="#6e9eae" stroke-width="0.52"/><circle cx="516.32" cy="346.96" r="1.85" fill="none" stroke="#6e9eae" stroke-width="0.52"/><circle cx="524.28" cy="340.57" r="1.85" fill="none" stroke="#6e9eae" stroke-width="0.52"/><circle cx="532.24" cy="334.57" r="1.85" fill="none" stroke="#6e9eae" stroke-width="0.52"/><circle cx="540.20" cy="328.56" r="1.85" fill="none" stroke="#6e9eae" stroke-width="0.52"/><circle cx="548.16" cy="322.56" r="1.85" fill="none" stroke="#6e9eae" stroke-width="0.52"/><circle cx="556.12" cy="316.69" r="1.85" fill="none" stroke="#6e9eae" stroke-width="0.52"/><circle cx="564.08" cy="310.56" r="1.85" fill="none" stroke="#6e9eae" stroke-width="0.52"/><circle cx="572.04" cy="304.42" r="1.85" fill="none" stroke="#6e9eae" stroke-width="0.52"/><circle cx="580.00" cy="298.42" r="1.85" fill="none" stroke="#6e9eae" stroke-width="0.52"/><circle cx="587.96" cy="292.28" r="1.85" fill="none" stroke="#6e9eae" stroke-width="0.52"/><circle cx="595.92" cy="286.41" r="1.85" fill="none" stroke="#6e9eae" stroke-width="0.52"/><circle cx="603.88" cy="281.06" r="1.85" fill="none" stroke="#6e9eae" stroke-width="0.52"/><circle cx="611.84" cy="275.58" r="1.85" fill="none" stroke="#6e9eae" stroke-width="0.52"/><circle cx="619.80" cy="270.10" r="1.85" fill="none" stroke="#6e9eae" stroke-width="0.52"/><circle cx="627.76" cy="264.49" r="1.85" fill="none" stroke="#6e9eae" stroke-width="0.52"/><circle cx="635.72" cy="258.88" r="1.85" fill="none" stroke="#6e9eae" stroke-width="0.52"/><circle cx="643.68" cy="252.87" r="1.85" fill="none" stroke="#6e9eae" stroke-width="0.52"/><circle cx="651.64" cy="247.26" r="1.85" fill="none" stroke="#6e9eae" stroke-width="0.52"/><circle cx="659.60" cy="240.74" r="1.85" fill="none" stroke="#6e9eae" stroke-width="0.52"/><circle cx="667.56" cy="233.04" r="1.85" fill="none" stroke="#6e9eae" stroke-width="0.52"/><circle cx="675.52" cy="223.90" r="1.85" fill="none" stroke="#6e9eae" stroke-width="0.52"/><circle cx="683.48" cy="213.72" r="1.85" fill="none" stroke="#6e9eae" stroke-width="0.52"/><path d="M506.78 357.67h3.15M508.36 356.09v3.15" stroke="#e2d47a" stroke-width="0.34" opacity="0.8"/><path d="M506.88 356.18l2.97 2.97M506.88 359.15l2.97 -2.97" stroke="#e2d47a" stroke-width="0.42"/><path d="M514.74 357.67h3.15M516.32 356.09v3.15" stroke="#e2d47a" stroke-width="0.34" opacity="0.8"/><path d="M514.84 356.18l2.97 2.97M514.84 359.15l2.97 -2.97" stroke="#e2d47a" stroke-width="0.42"/><path d="M522.70 357.67h3.15M524.28 356.09v3.15" stroke="#e2d47a" stroke-width="0.34" opacity="0.8"/><path d="M522.80 356.18l2.97 2.97M522.80 359.15l2.97 -2.97" stroke="#e2d47a" stroke-width="0.42"/><path d="M530.66 357.67h3.15M532.24 356.09v3.15" stroke="#e2d47a" stroke-width="0.34" opacity="0.8"/><path d="M530.76 356.18l2.97 2.97M530.76 359.15l2.97 -2.97" stroke="#e2d47a" stroke-width="0.42"/><path d="M538.62 357.67h3.15M540.20 356.09v3.15" stroke="#e2d47a" stroke-width="0.34" opacity="0.8"/><path d="M538.72 356.18l2.97 2.97M538.72 359.15l2.97 -2.97" stroke="#e2d47a" stroke-width="0.42"/><path d="M546.58 357.67h3.15M548.16 356.09v3.15" stroke="#e2d47a" stroke-width="0.34" opacity="0.8"/><path d="M546.68 356.18l2.97 2.97M546.68 359.15l2.97 -2.97" stroke="#e2d47a" stroke-width="0.42"/><path d="M554.54 357.67h3.15M556.12 356.09v3.15" stroke="#e2d47a" stroke-width="0.34" opacity="0.8"/><path d="M554.64 356.18l2.97 2.97M554.64 359.15l2.97 -2.97" stroke="#e2d47a" stroke-width="0.42"/><path d="M562.50 357.67h3.15M564.08 356.09v3.15" stroke="#e2d47a" stroke-width="0.34" opacity="0.8"/><path d="M562.60 356.18l2.97 2.97M562.60 359.15l2.97 -2.97" stroke="#e2d47a" stroke-width="0.42"/><path d="M570.46 357.67h3.15M572.04 356.09v3.15" stroke="#e2d47a" stroke-width="0.34" opacity="0.8"/><path d="M570.56 356.18l2.97 2.97M570.56 359.15l2.97 -2.97" stroke="#e2d47a" stroke-width="0.42"/><path d="M578.42 357.67h3.15M580.00 356.09v3.15" stroke="#e2d47a" stroke-width="0.34" opacity="0.8"/><path d="M578.52 356.18l2.97 2.97M578.52 359.15l2.97 -2.97" stroke="#e2d47a" stroke-width="0.42"/><path d="M586.38 357.67h3.15M587.96 356.09v3.15" stroke="#e2d47a" stroke-width="0.34" opacity="0.8"/><path d="M586.48 356.18l2.97 2.97M586.48 359.15l2.97 -2.97" stroke="#e2d47a" stroke-width="0.42"/><path d="M594.34 357.67h3.15M595.92 356.09v3.15" stroke="#e2d47a" stroke-width="0.34" opacity="0.8"/><path d="M594.44 356.18l2.97 2.97M594.44 359.15l2.97 -2.97" stroke="#e2d47a" stroke-width="0.42"/><path d="M602.30 357.67h3.15M603.88 356.09v3.15" stroke="#e2d47a" stroke-width="0.34" opacity="0.8"/><path d="M602.40 356.18l2.97 2.97M602.40 359.15l2.97 -2.97" stroke="#e2d47a" stroke-width="0.42"/><path d="M610.26 357.67h3.15M611.84 356.09v3.15" stroke="#e2d47a" stroke-width="0.34" opacity="0.8"/><path d="M610.36 356.18l2.97 2.97M610.36 359.15l2.97 -2.97" stroke="#e2d47a" stroke-width="0.42"/><path d="M618.22 357.67h3.15M619.80 356.09v3.15" stroke="#e2d47a" stroke-width="0.34" opacity="0.8"/><path d="M618.32 356.18l2.97 2.97M618.32 359.15l2.97 -2.97" stroke="#e2d47a" stroke-width="0.42"/><path d="M626.18 357.67h3.15M627.76 356.09v3.15" stroke="#e2d47a" stroke-width="0.34" opacity="0.8"/><path d="M626.28 356.18l2.97 2.97M626.28 359.15l2.97 -2.97" stroke="#e2d47a" stroke-width="0.42"/><path d="M634.14 357.67h3.15M635.72 356.09v3.15" stroke="#e2d47a" stroke-width="0.34" opacity="0.8"/><path d="M634.24 356.18l2.97 2.97M634.24 359.15l2.97 -2.97" stroke="#e2d47a" stroke-width="0.42"/><path d="M642.10 357.67h3.15M643.68 356.09v3.15" stroke="#e2d47a" stroke-width="0.34" opacity="0.8"/><path d="M642.20 356.18l2.97 2.97M642.20 359.15l2.97 -2.97" stroke="#e2d47a" stroke-width="0.42"/><path d="M650.06 357.67h3.15M651.64 356.09v3.15" stroke="#e2d47a" stroke-width="0.34" opacity="0.8"/><path d="M650.16 356.18l2.97 2.97M650.16 359.15l2.97 -2.97" stroke="#e2d47a" stroke-width="0.42"/><path d="M658.02 357.67h3.15M659.60 356.09v3.15" stroke="#e2d47a" stroke-width="0.34" opacity="0.8"/><path d="M658.12 356.18l2.97 2.97M658.12 359.15l2.97 -2.97" stroke="#e2d47a" stroke-width="0.42"/><path d="M665.98 356.23h3.15M667.56 354.65v3.15" stroke="#e2d47a" stroke-width="0.34" opacity="0.8"/><path d="M666.08 354.75l2.97 2.97M666.08 357.71l2.97 -2.97" stroke="#e2d47a" stroke-width="0.42"/><path d="M673.94 353.75h3.15M675.52 352.18v3.15" stroke="#e2d47a" stroke-width="0.34" opacity="0.8"/><path d="M674.04 352.27l2.97 2.97M674.04 355.24l2.97 -2.97" stroke="#e2d47a" stroke-width="0.42"/><path d="M681.90 357.40h3.15M683.48 355.83v3.15" stroke="#e2d47a" stroke-width="0.34" opacity="0.8"/><path d="M682.00 355.92l2.97 2.97M682.00 358.89l2.97 -2.97" stroke="#e2d47a" stroke-width="0.42"/><rect x="505.30" y="209.80" width="68.0" height="31.6" fill="#ffffff" stroke="#a8a8a8" stroke-width="0.85"/><circle cx="516.50" cy="214.55" r="1.85" fill="none" stroke="#6e9eae" stroke-width="0.52"/><line x1="507.50" y1="222.00" x2="525.60" y2="222.00" stroke="#d0ac90" stroke-width="0.55"/><path d="M514.92 229.45h3.15M516.50 227.88v3.15" stroke="#e2d47a" stroke-width="0.34" opacity="0.8"/><path d="M515.02 227.97l2.97 2.97M515.02 230.93l2.97 -2.97" stroke="#e2d47a" stroke-width="0.42"/><line x1="507.50" y1="236.90" x2="525.60" y2="236.90" stroke="#9d95a8" stroke-width="0.55"/><text x="527.20" y="216.90" class="l">fitted <tspan class="g">&#956;</tspan></text><text x="527.20" y="224.35" class="l">linear fit of fitted <tspan class="g">&#956;</tspan></text><text x="527.20" y="231.80" class="l">fitted <tspan class="g">&#963;</tspan></text><text x="527.20" y="239.25" class="l">linear fit of fitted <tspan class="g">&#963;</tspan></text></g>
</g></svg>
</body></html>
